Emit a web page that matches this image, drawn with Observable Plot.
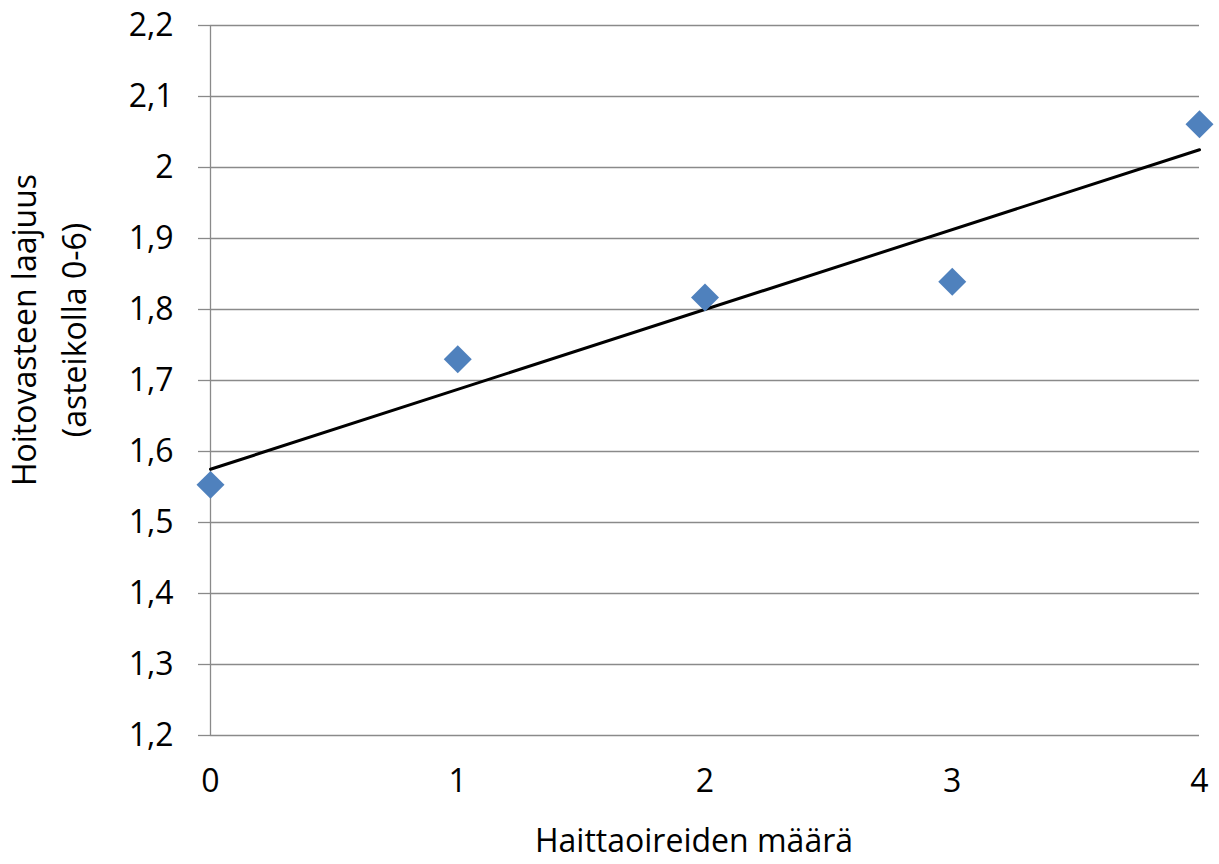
<!DOCTYPE html>
<html>
<head>
<meta charset="utf-8">
<script src="https://cdn.jsdelivr.net/npm/d3@7"></script>
<script src="https://cdn.jsdelivr.net/npm/@observablehq/plot@0.6"></script>
<style>
  html, body { margin: 0; padding: 0; background: #fff; }
  #chart svg { display: block; }
</style>
</head>
<body>
<div id="chart"></div>
<script>
// Number of adverse symptoms (x) and mean extent of treatment response (y, scale 0–6)
const symptomCounts = [0, 1, 2, 3, 4];
const responseExtent = [1.553, 1.73, 1.817, 1.839, 2.061];
const xTicks = [0, 1, 2, 3, 4];
const yTicks = [1.2, 1.3, 1.4, 1.5, 1.6, 1.7, 1.8, 1.9, 2.0, 2.1, 2.2];

const xTitle = "Haittaoireiden määrä";
const yTitleLines = ["Hoitovasteen laajuus", "(asteikolla 0-6)"];

const points = symptomCounts.map((x, i) => ({x, y: responseExtent[i]}));

const font = "'Open Sans', 'Noto Sans', sans-serif";
const fontSize = 32;
const gridColor = "#8a8a8a";
const fmt = d => (Math.round(d * 10) / 10).toString().replace(".", ",");

const chart = Plot.plot({
  width: 1219,
  height: 864,
  marginLeft: 210,
  marginRight: 20,
  marginTop: 25,
  marginBottom: 129,
  style: {fontFamily: font, fontSize: `${fontSize}px`, color: "#000", background: "#fff"},
  x: {domain: [0, 4], label: null},
  y: {domain: [1.2, 2.2], label: null},
  marks: [
    Plot.gridY(yTicks, {stroke: gridColor, strokeOpacity: 1, strokeWidth: 1.3}),
    Plot.axisY(yTicks, {tickSize: 12, tickPadding: 25, stroke: gridColor, strokeWidth: 1.3, tickFormat: fmt, label: null}),
    Plot.axisX(xTicks, {tickSize: 0, tickPadding: 34, tickFormat: d => String(d), label: null}),
    Plot.ruleX([0], {stroke: gridColor, strokeWidth: 1.3}),
    Plot.linearRegressionY(points, {x: "x", y: "y", ci: 0, stroke: "#000", strokeWidth: 3}),
    Plot.dot(points, {x: "x", y: "y", symbol: "diamond2", r: 12.6, fill: "#4f81bd", stroke: "none"})
  ]
});

const svg = d3.select(chart);

// Axis titles
svg.append("text")
  .attr("x", 694).attr("y", 843)
  .attr("text-anchor", "middle").attr("dominant-baseline", "middle")
  .attr("font-family", font).attr("font-size", fontSize).attr("fill", "#000")
  .text(xTitle);

yTitleLines.forEach((line, i) => {
  svg.append("text")
    .attr("transform", `translate(${27 + i * 50},330) rotate(-90)`)
    .attr("text-anchor", "middle").attr("dominant-baseline", "middle")
    .attr("font-family", font).attr("font-size", fontSize).attr("fill", "#000")
    .text(line);
});

document.getElementById("chart").appendChild(chart);
</script>
</body>
</html>
